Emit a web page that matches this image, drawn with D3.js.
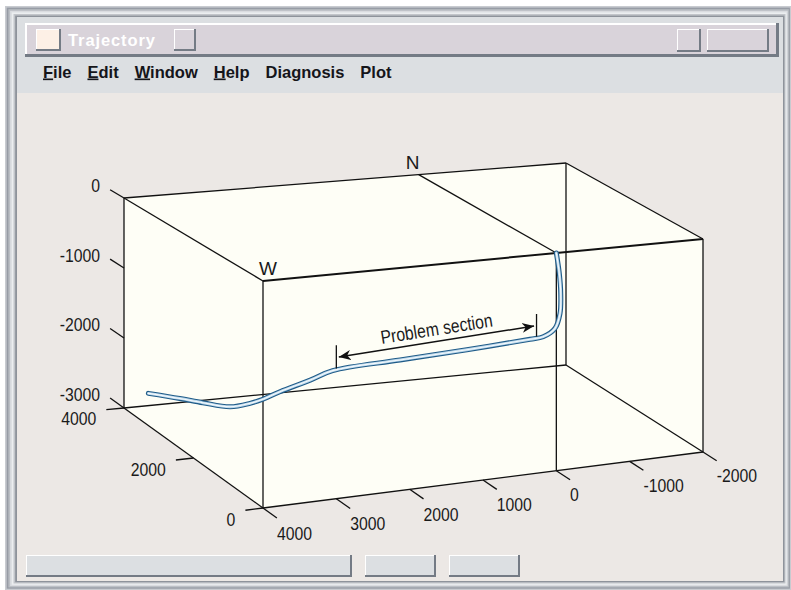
<!DOCTYPE html>
<html>
<head>
<meta charset="utf-8">
<script src="https://cdn.jsdelivr.net/npm/d3@7"></script>
<style>
  html, body { margin: 0; padding: 0; background: #fff; }
  svg { display: block; }
  .lbl { font-family: "Liberation Sans Narrow", "Arial Narrow", "Liberation Sans", sans-serif; font-size: 19px; fill: #1a1a1a; }
  .ui { font-family: "Liberation Sans", Arial, sans-serif; font-weight: bold; }
</style>
</head>
<body>
<div class="chart"></div>
<script>
// DATA ------------------------------------
const menuItems = ['File', 'Edit', 'Window', 'Help', 'Diagnosis', 'Plot']
const underlined = ['File', 'Edit', 'Window', 'Help']
const zTicks = [0, -1000, -2000, -3000]
const nTicks = [0, 2000, 4000]
const eTicks = [4000, 3000, 2000, 1000, 0, -1000, -2000]

// well stations (east/west, north, depth)
const wellE = [0, -40, -60, -50, 20, 180, 360, 1220, 2130, 3050, 3300, 3580, 3690, 3760, 3840, 3910, 3960, 3990]
const wellN = [0, 0, 0, 0, 0, 0, 0, 0, 0, 0, 120, 400, 640, 880, 1280, 1920, 2480, 3320]
const wellZ = [0, -280, -560, -840, -1040, -1135, -1150, -1200, -1240, -1285, -1420, -1630, -1790, -1915, -2080, -2225, -2345, -2555]

const problemSection = [3000, 270]

// LAYOUT ----------------------------------
const W = 791, H = 590

const svg = d3.select('.chart')
    .append('svg')
    .attr('width', W)
    .attr('height', H)

// screen frame of the box: front-left, front-right, back-left, back-right
const topFace = [[263, 281], [703, 239], [124, 198], [566, 163]]
const bottomFace = [[263, 508], [703, 452], [124, 408], [566, 365]]

const eScale = d3.scaleLinear().domain([4000, -2000]).range([0, 1])
const nScale = d3.scaleLinear().domain([0, 4000]).range([0, 1])
const zScale = d3.scaleLinear().domain([0, -3000]).range([0, 1])

function bilerp(c, u, v) {
    return [0, 1].map(i => c[0][i] * (1 - u) * (1 - v) + c[1][i] * u * (1 - v) + c[2][i] * (1 - u) * v + c[3][i] * u * v)
}
function project(e, n, z) {
    const u = eScale(e), v = nScale(n), w = zScale(z)
    const t = bilerp(topFace, u, v), b = bilerp(bottomFace, u, v)
    return [t[0] + (b[0] - t[0]) * w, t[1] + (b[1] - t[1]) * w]
}

// WINDOW CHROME ---------------------------
function bevel(x, y, w, h, fill, t) {
    const g = svg.append('g')
    g.append('rect').attr('x', x).attr('y', y).attr('width', w).attr('height', h).attr('fill', '#747b85')
    g.append('rect').attr('x', x).attr('y', y).attr('width', w - t).attr('height', h - t).attr('fill', '#ffffff')
    g.append('rect').attr('x', x + t - 1).attr('y', y + t - 1).attr('width', w - 2 * t + 1).attr('height', h - 2 * t + 1).attr('fill', fill)
    return g
}

const bands = ['#c8cbd0', '#979ca5', '#b9bdc3', '#dadce0', '#eceef0', '#c2c5ca', '#8e939b']
bands.forEach((c, i) => {
    svg.append('rect')
        .attr('x', 5 + i * 1.7).attr('y', 6 + i * 1.6)
        .attr('width', 786 - i * 1.7 - i * 1.1).attr('height', 584 - i * 1.6 - i * 1.3)
        .attr('fill', c)
})
svg.append('rect').attr('x', 17).attr('y', 17).attr('width', 766).attr('height', 564).attr('fill', '#dcdfe2')
svg.append('rect').attr('x', 17).attr('y', 93).attr('width', 766).attr('height', 488).attr('fill', '#ece8e5')

// title bar
bevel(25, 23, 754, 34, '#d9d3da', 3)
bevel(36, 29, 25, 22, '#fdf0e6', 2)
bevel(174, 29, 22, 22, '#d9d3da', 2)
bevel(677, 29, 24, 23, '#d9d3da', 2)
bevel(707, 29, 62, 23, '#d9d3da', 2)
svg.append('text')
    .attr('class', 'ui')
    .attr('x', 68).attr('y', 45.5)
    .attr('font-size', 16.5)
    .attr('letter-spacing', 0.9)
    .attr('fill', '#ffffff')
    .text('Trajectory')

// menu
let mx = 43
menuItems.forEach(name => {
    const t = svg.append('text')
        .attr('class', 'ui')
        .attr('x', mx).attr('y', 77.5)
        .attr('font-size', 16.5)
        .attr('fill', '#15151a')
    if (underlined.includes(name)) {
        t.append('tspan').attr('text-decoration', 'underline').text(name[0])
        t.append('tspan').text(name.slice(1))
    } else {
        t.text(name)
    }
    mx += t.node().getComputedTextLength() + 16
})

// status bar
bevel(26, 555, 326, 22, '#dcdfe2', 2)
bevel(365, 555, 71, 22, '#dcdfe2', 2)
bevel(449, 555, 71, 22, '#dcdfe2', 2)

// BOX -------------------------------------
const eD = eScale.domain(), nD = nScale.domain(), zD = zScale.domain()
const chart = svg.append('g')

const outline = [[eD[0], nD[1], zD[0]], [eD[1], nD[1], zD[0]], [eD[1], nD[0], zD[0]],
    [eD[1], nD[0], zD[1]], [eD[0], nD[0], zD[1]], [eD[0], nD[1], zD[1]]]
chart.append('path')
    .attr('d', d3.line()(outline.map(p => project(...p))) + 'Z')
    .attr('fill', '#fefef6')

const corners = []
eD.forEach(e => nD.forEach(n => zD.forEach(z => corners.push([e, n, z]))))
const edges = []
corners.forEach((a, i) => corners.forEach((b, j) => {
    if (j > i && a.filter((c, k) => c !== b[k]).length === 1) edges.push([a, b])
}))
// front top edge is drawn heavier
const isFrontTop = ([a, b]) => a[1] === 0 && b[1] === 0 && a[2] === 0 && b[2] === 0
chart.selectAll('.edge')
    .data(edges)
    .enter()
    .append('line')
    .attr('class', 'edge')
    .attr('x1', d => project(...d[0])[0]).attr('y1', d => project(...d[0])[1])
    .attr('x2', d => project(...d[1])[0]).attr('y2', d => project(...d[1])[1])
    .attr('stroke', '#111')
    .attr('stroke-width', d => isFrontTop(d) ? 2 : 1.3)

// zero meridian on top and front faces
const zeroLines = [[[0, nD[1], 0], [0, 0, 0]], [[0, 0, 0], [0, 0, zD[1]]]]
zeroLines.forEach(([a, b]) => {
    chart.append('line')
        .attr('x1', project(...a)[0]).attr('y1', project(...a)[1])
        .attr('x2', project(...b)[0]).attr('y2', project(...b)[1])
        .attr('stroke', '#111').attr('stroke-width', 1.3)
})

// AXES ------------------------------------
function tick(a, b, label, dx, dy, anchor) {
    const p = project(...a), q = project(...b)
    chart.append('line')
        .attr('x1', p[0]).attr('y1', p[1]).attr('x2', q[0]).attr('y2', q[1])
        .attr('stroke', '#111').attr('stroke-width', 1.3)
    chart.append('text')
        .attr('class', 'lbl narrow')
        .attr('x', q[0] + dx).attr('y', q[1] + dy)
        .attr('dy', '0.35em')
        .attr('text-anchor', anchor)
        .text(label)
}
zTicks.forEach(z => tick([eD[0], nD[1], z], [eD[0], nD[1] * 1.1, z], z, -10, -4, 'end'))
nTicks.forEach(n => tick([eD[0], n, zD[1]], [eD[0] + 240, n, zD[1]], n, -10, 9, 'end'))
eTicks.forEach(e => tick([e, 0, zD[1]], [e, -400, zD[1]], e, 0, 15, 'start'))

const wPos = project(eD[0], 0, 0)
chart.append('text').attr('class', 'lbl')
    .attr('x', wPos[0] + 5).attr('y', wPos[1] - 6)
    .attr('text-anchor', 'middle').text('W')
const nPos = project(0, nD[1], 0)
chart.append('text').attr('class', 'lbl')
    .attr('x', nPos[0] - 6).attr('y', nPos[1] - 6)
    .attr('text-anchor', 'middle').text('N')

// WELL ------------------------------------
const stations = wellE.map((e, i) => project(e, wellN[i], wellZ[i]))
const wellPath = d3.line().curve(d3.curveCatmullRom.alpha(0.5))(stations)
chart.append('path').attr('d', wellPath).attr('fill', 'none')
    .attr('stroke', '#1f5b88').attr('stroke-width', 5).attr('stroke-linecap', 'round')
chart.append('path').attr('d', wellPath).attr('fill', 'none')
    .attr('stroke', '#b9d6e9').attr('stroke-width', 2.8).attr('stroke-linecap', 'round')
chart.append('path').attr('d', wellPath).attr('fill', 'none')
    .attr('stroke', '#f4f9fd').attr('stroke-width', 1.1).attr('stroke-linecap', 'round')

// PROBLEM SECTION -------------------------
const leg = wellE.map((e, i) => ({ e, n: wellN[i], z: wellZ[i] })).filter(d => d.n === 0 && d.e > 100)
const legZ = d3.scaleLinear().domain(leg.map(d => d.e)).range(leg.map(d => d.z))

svg.append('defs').append('marker')
    .attr('id', 'arr')
    .attr('viewBox', '-12 -6 14 12')
    .attr('refX', 0).attr('refY', 0)
    .attr('markerWidth', 14).attr('markerHeight', 12)
    .attr('markerUnits', 'userSpaceOnUse')
    .attr('orient', 'auto-start-reverse')
    .append('path')
    .attr('d', 'M0,0 L-12,-5 L-8.5,0 L-12,5 Z')
    .attr('fill', '#111')

const ends = problemSection.map(e => {
    const z = legZ(e)
    chart.append('line')
        .attr('x1', project(e, 0, z + 20)[0]).attr('y1', project(e, 0, z + 20)[1])
        .attr('x2', project(e, 0, z + 330)[0]).attr('y2', project(e, 0, z + 330)[1])
        .attr('stroke', '#111').attr('stroke-width', 1.3)
    return project(e, 0, z + 170)
})
const ang = Math.atan2(ends[1][1] - ends[0][1], ends[1][0] - ends[0][0])
const inset = 2.5
const a0 = [ends[0][0] + inset * Math.cos(ang), ends[0][1] + inset * Math.sin(ang)]
const a1 = [ends[1][0] - inset * Math.cos(ang), ends[1][1] - inset * Math.sin(ang)]
chart.append('line')
    .attr('x1', a0[0]).attr('y1', a0[1]).attr('x2', a1[0]).attr('y2', a1[1])
    .attr('stroke', '#111').attr('stroke-width', 1.5)
    .attr('marker-start', 'url(#arr)').attr('marker-end', 'url(#arr)')

const mid = [(ends[0][0] + ends[1][0]) / 2, (ends[0][1] + ends[1][1]) / 2]
chart.append('text')
    .attr('class', 'lbl narrow')
    .attr('font-size', 20)
    .attr('text-anchor', 'middle')
    .attr('transform', `translate(${mid[0]},${mid[1]}) rotate(${ang * 180 / Math.PI}) translate(2,-6)`)
    .text('Problem section')

// labels want a condensed face; squeeze the fallback when no narrow face is installed
const probe = svg.append('text').attr('class', 'lbl').text('0000')
const digitWidth = probe.node().getComputedTextLength() / 4
probe.remove()
if (digitWidth > 0.5 * 19) {
    chart.selectAll('.narrow').each(function () {
        const len = this.getComputedTextLength()
        d3.select(this).attr('textLength', len * 0.83).attr('lengthAdjust', 'spacingAndGlyphs')
    })
}
</script>
</body>
</html>
